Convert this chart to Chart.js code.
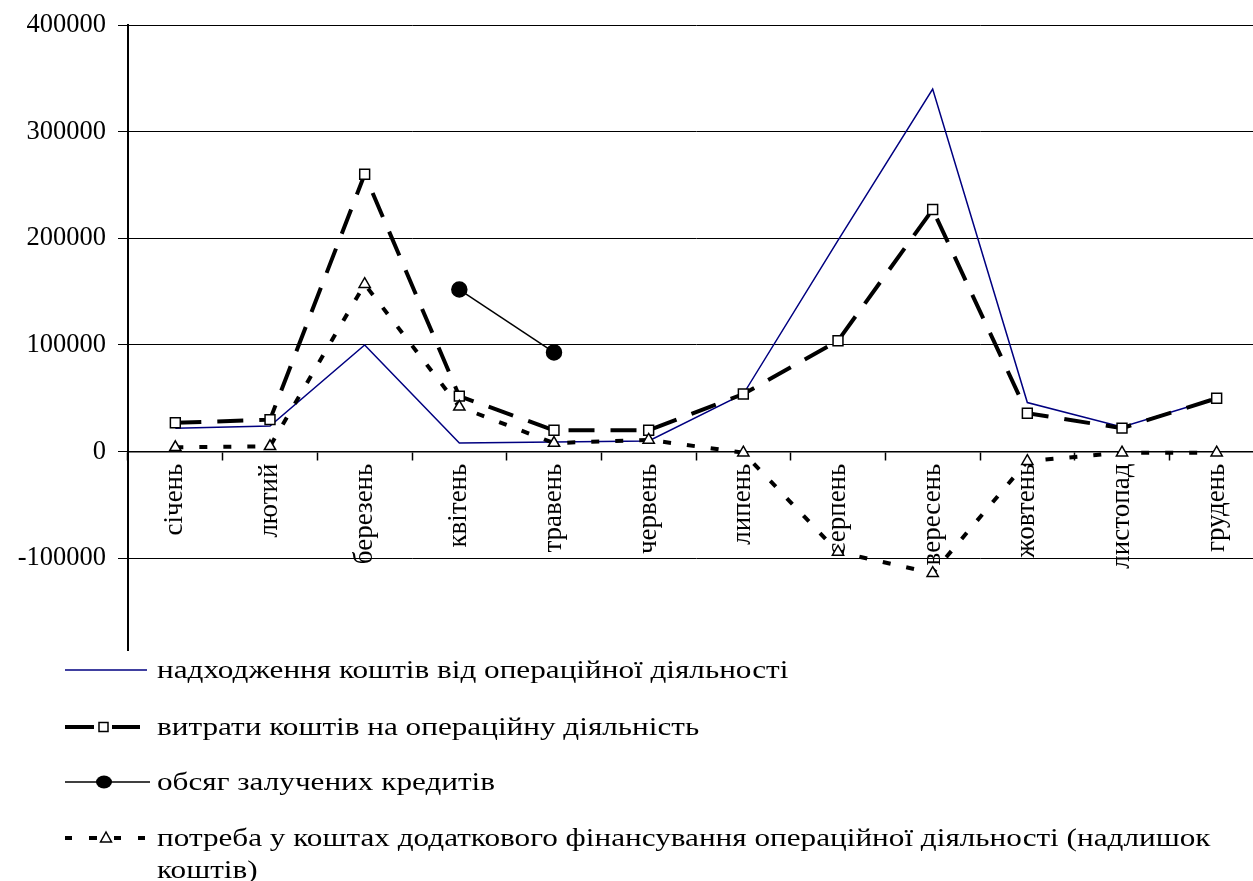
<!DOCTYPE html>
<html lang="uk">
<head>
<meta charset="utf-8">
<title>Рух коштів від операційної діяльності</title>
<script src="https://cdn.jsdelivr.net/npm/chart.js@4/dist/chart.umd.min.js"></script>
<style>
  html, body { margin: 0; padding: 0; background: #fff; overflow: hidden; }
  #page { position: relative; width: 1253px; height: 881px; overflow: hidden; background: #fff; }
  #plot { position: absolute; left: 0; top: 0; }
  #samples { position: absolute; left: 0; top: 0; }
  .leg {
    position: absolute; left: 157px;
    font-family: "Liberation Serif", "Times New Roman", serif;
    font-size: 26px; line-height: 30px; color: #000;
    transform: scaleX(1.2); transform-origin: left top;
    white-space: nowrap;
  }
</style>
</head>
<body>
<div id="page">
  <canvas id="plot" width="1273" height="660"></canvas>
  <svg id="samples" width="1253" height="881" xmlns="http://www.w3.org/2000/svg">
    <!-- надходження -->
    <line x1="65" y1="670" x2="147" y2="670" stroke="#000080" stroke-width="1.5"/>
    <!-- витрати -->
    <line x1="65" y1="727" x2="94" y2="727" stroke="#000" stroke-width="4"/>
    <line x1="112" y1="727" x2="140" y2="727" stroke="#000" stroke-width="4"/>
    <rect x="99" y="722.5" width="9" height="9" fill="#fff" stroke="#000" stroke-width="1.5"/>
    <!-- кредити -->
    <line x1="65" y1="782" x2="150" y2="782" stroke="#000" stroke-width="1.5"/>
    <ellipse cx="104" cy="782" rx="8" ry="6.5" fill="#000"/>
    <!-- потреба -->
    <line x1="65" y1="838" x2="72" y2="838" stroke="#000" stroke-width="4"/>
    <line x1="89" y1="838" x2="97" y2="838" stroke="#000" stroke-width="4"/>
    <line x1="114" y1="838" x2="121" y2="838" stroke="#000" stroke-width="4"/>
    <line x1="138" y1="838" x2="145" y2="838" stroke="#000" stroke-width="4"/>
    <polygon points="106,832 100.5,842 111.5,842" fill="#fff" stroke="#000" stroke-width="1.5"/>
  </svg>
  <div class="leg" id="leg0" style="top:655px"></div>
  <div class="leg" id="leg1" style="top:712px"></div>
  <div class="leg" id="leg2" style="top:767px"></div>
  <div class="leg" id="leg3" style="top:823px"></div>
  <div class="leg" id="leg3b" style="top:855px"></div>
</div>
<script>
// Місяці року
const months = ['січень', 'лютий', 'березень', 'квітень', 'травень', 'червень',
                'липень', 'серпень', 'вересень', 'жовтень', 'листопад', 'грудень'];

// Надходження коштів від операційної діяльності
const inflow = [22000, 24000, 100000, 8000, 9000, 10000, 54000, 198000, 340000, 46000, 23000, 50000];

// Витрати коштів на операційну діяльність
const outflow = [27000, 30000, 260000, 52000, 20000, 20000, 54000, 104000, 227000, 36000, 22000, 50000];

// Обсяг залучених кредитів
const credits = [null, null, null, 152000, 93000, null, null, null, null, null, null, null];

// Потреба у коштах додаткового фінансування (надлишок коштів)
const need = [4000, 5000, 157000, 42000, 8000, 11000, -1000, -94000, -114000, -9000, -1000, -1000];

// Поділки вертикальної осі
const yTicks = [-100000, 0, 100000, 200000, 300000, 400000];

const seriesNames = [
  'надходження коштів від операційної діяльності',
  'витрати коштів на операційну діяльність',
  'обсяг залучених кредитів',
  'потреба у коштах додаткового фінансування операційної діяльності (надлишок',
  'коштів)'
];

['leg0', 'leg1', 'leg2', 'leg3', 'leg3b'].forEach((id, i) => {
  document.getElementById(id).textContent = seriesNames[i];
});

const serif = '"Liberation Serif", "Times New Roman", serif';

new Chart(document.getElementById('plot'), {
  type: 'line',
  data: {
    labels: months,
    datasets: [
      {
        label: seriesNames[0],
        data: inflow,
        borderColor: '#000080',
        borderWidth: 1.5,
        pointRadius: 0,
        tension: 0,
        order: 4
      },
      {
        label: seriesNames[1],
        data: outflow,
        borderColor: '#000',
        borderWidth: 4,
        borderDash: [26, 16],
        pointStyle: 'rect',
        pointRadius: 7,
        pointBackgroundColor: '#fff',
        pointBorderColor: '#000',
        pointBorderWidth: 1.5,
        tension: 0,
        order: 3
      },
      {
        label: seriesNames[2],
        data: credits,
        borderColor: '#000',
        borderWidth: 1.5,
        pointStyle: 'circle',
        pointRadius: 7.5,
        pointBackgroundColor: '#000',
        pointBorderColor: '#000',
        spanGaps: false,
        tension: 0,
        order: 2
      },
      {
        label: seriesNames[3] + ' ' + seriesNames[4],
        data: need,
        borderColor: '#000',
        borderWidth: 4,
        borderDash: [8, 16],
        pointStyle: 'triangle',
        pointRadius: 6.5,
        pointBackgroundColor: '#fff',
        pointBorderColor: '#000',
        pointBorderWidth: 1.5,
        tension: 0,
        order: 1
      }
    ]
  },
  options: {
    responsive: false,
    animation: false,
    events: [],
    layout: { padding: { top: 25, bottom: 10, left: 0, right: 4 } },
    plugins: {
      legend: { display: false },
      tooltip: { enabled: false }
    },
    scales: {
      x: {
        type: 'category',
        position: { y: 0 },
        offset: true,
        grid: {
          offset: true,
          drawOnChartArea: false,
          drawTicks: true,
          tickLength: 8,
          tickWidth: 1.5,
          tickColor: '#000'
        },
        border: { display: true, color: '#000', width: 1.5 },
        ticks: {
          autoSkip: false,
          minRotation: 90,
          maxRotation: 90,
          padding: 4,
          color: '#000',
          font: { family: serif, size: 27 }
        },
        afterFit(scale) {
          scale.paddingLeft = 0;
          scale.paddingRight = 0;
        }
      },
      y: {
        type: 'linear',
        min: -186000,
        max: 400000,
        grid: {
          color: '#000',
          lineWidth: 1,
          drawTicks: true,
          tickLength: 10,
          tickColor: '#000'
        },
        border: { display: true, color: '#000', width: 2 },
        ticks: {
          padding: 12,
          color: '#000',
          font: { family: serif, size: 26.5 },
          callback: (value) => String(value)
        },
        afterBuildTicks(scale) {
          scale.ticks = yTicks.map(v => ({ value: v }));
        },
        afterFit(scale) {
          scale.width = 128;
          scale.paddingTop = 0;
          scale.paddingBottom = 0;
        }
      }
    }
  }
});
</script>
</body>
</html>
